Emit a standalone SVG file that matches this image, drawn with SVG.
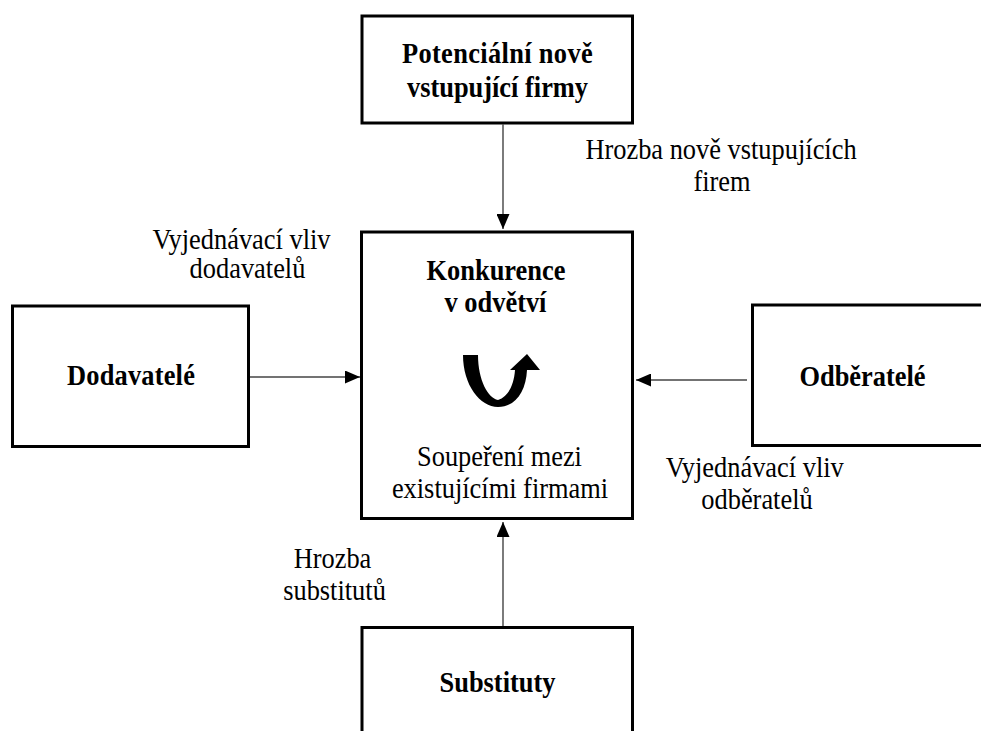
<svg xmlns="http://www.w3.org/2000/svg" width="981" height="731" viewBox="0 0 981 731">
<style>
.box{fill:#fff;stroke:#000;stroke-width:3}
.t{font-family:"Liberation Serif","Times New Roman",serif;font-size:26.4px;fill:#000;text-anchor:middle}
.b{font-weight:bold}
.con{stroke:#444;stroke-width:1.4;fill:none}
</style>
<defs>
<marker id="ah" viewBox="0 0 15 13" refX="15" refY="6.5" markerWidth="15" markerHeight="13" markerUnits="userSpaceOnUse" orient="auto">
<path d="M0,0 L15,6.5 L0,13 Z" fill="#000"/>
</marker>
</defs>
<rect width="981" height="731" fill="#fff"/>
<g id="connectors">
<line class="con" x1="503" y1="124.5" x2="503" y2="229" marker-end="url(#ah)"/>
<line class="con" x1="503" y1="626" x2="503" y2="522" marker-end="url(#ah)"/>
<line class="con" x1="250" y1="377" x2="360" y2="377" marker-end="url(#ah)"/>
<line class="con" x1="747" y1="380" x2="636" y2="380" marker-end="url(#ah)"/>
</g>
<g id="entrants">
<rect class="box" x="362" y="16" width="270.5" height="107"/>
<g transform="translate(497.5,63) scale(1,1.08)"><text class="t b" style="letter-spacing:0.35px">Potenciální nově</text></g>
<g transform="translate(497.5,97) scale(1,1.08)"><text class="t b">vstupující firmy</text></g>
</g>
<g id="rivalry">
<rect class="box" x="361.5" y="232" width="271" height="286.5"/>
<g transform="translate(496,280) scale(1,1.08)"><text class="t b">Konkurence</text></g>
<g transform="translate(495.5,312) scale(1,1.08)"><text class="t b">v odvětví</text></g>
<path d="M463,355 C463,385 480,407 498,407 C515,407 526,392 527,370 L540,370 L527,354 L510,370 L515,370 C514,385 508,397 498,400 C488,398 478,380 478,355 Z" fill="#000"/>
<g transform="translate(499.5,466) scale(1,1.08)"><text class="t">Soupeření mezi</text></g>
<g transform="translate(500,498) scale(1,1.08)"><text class="t">existujícími firmami</text></g>
</g>
<g id="suppliers">
<rect class="box" x="12.5" y="306" width="236" height="140.5"/>
<g transform="translate(131,385) scale(1,1.08)"><text class="t b" style="letter-spacing:0.2px">Dodavatelé</text></g>
</g>
<g id="buyers">
<rect class="box" x="752.5" y="305" width="240" height="140.5"/>
<g transform="translate(862.5,386) scale(1,1.08)"><text class="t b">Odběratelé</text></g>
</g>
<g id="substitutes">
<rect class="box" x="362" y="627.5" width="270.5" height="120"/>
<g transform="translate(497.5,692) scale(1,1.08)"><text class="t b">Substituty</text></g>
</g>
<g id="labels">
<g transform="translate(721,159.3) scale(1,1.08)"><text class="t">Hrozba nově vstupujících</text></g>
<g transform="translate(722,190.7) scale(1,1.08)"><text class="t">firem</text></g>
<g transform="translate(241.5,249) scale(1,1.08)"><text class="t">Vyjednávací vliv</text></g>
<g transform="translate(247.5,278) scale(1,1.08)"><text class="t">dodavatelů</text></g>
<g transform="translate(754.7,477) scale(1,1.08)"><text class="t">Vyjednávací vliv</text></g>
<g transform="translate(757,508.5) scale(1,1.08)"><text class="t">odběratelů</text></g>
<g transform="translate(332.5,568.3) scale(1,1.08)"><text class="t">Hrozba</text></g>
<g transform="translate(334.5,600) scale(1,1.08)"><text class="t">substitutů</text></g>
</g>
</svg>
